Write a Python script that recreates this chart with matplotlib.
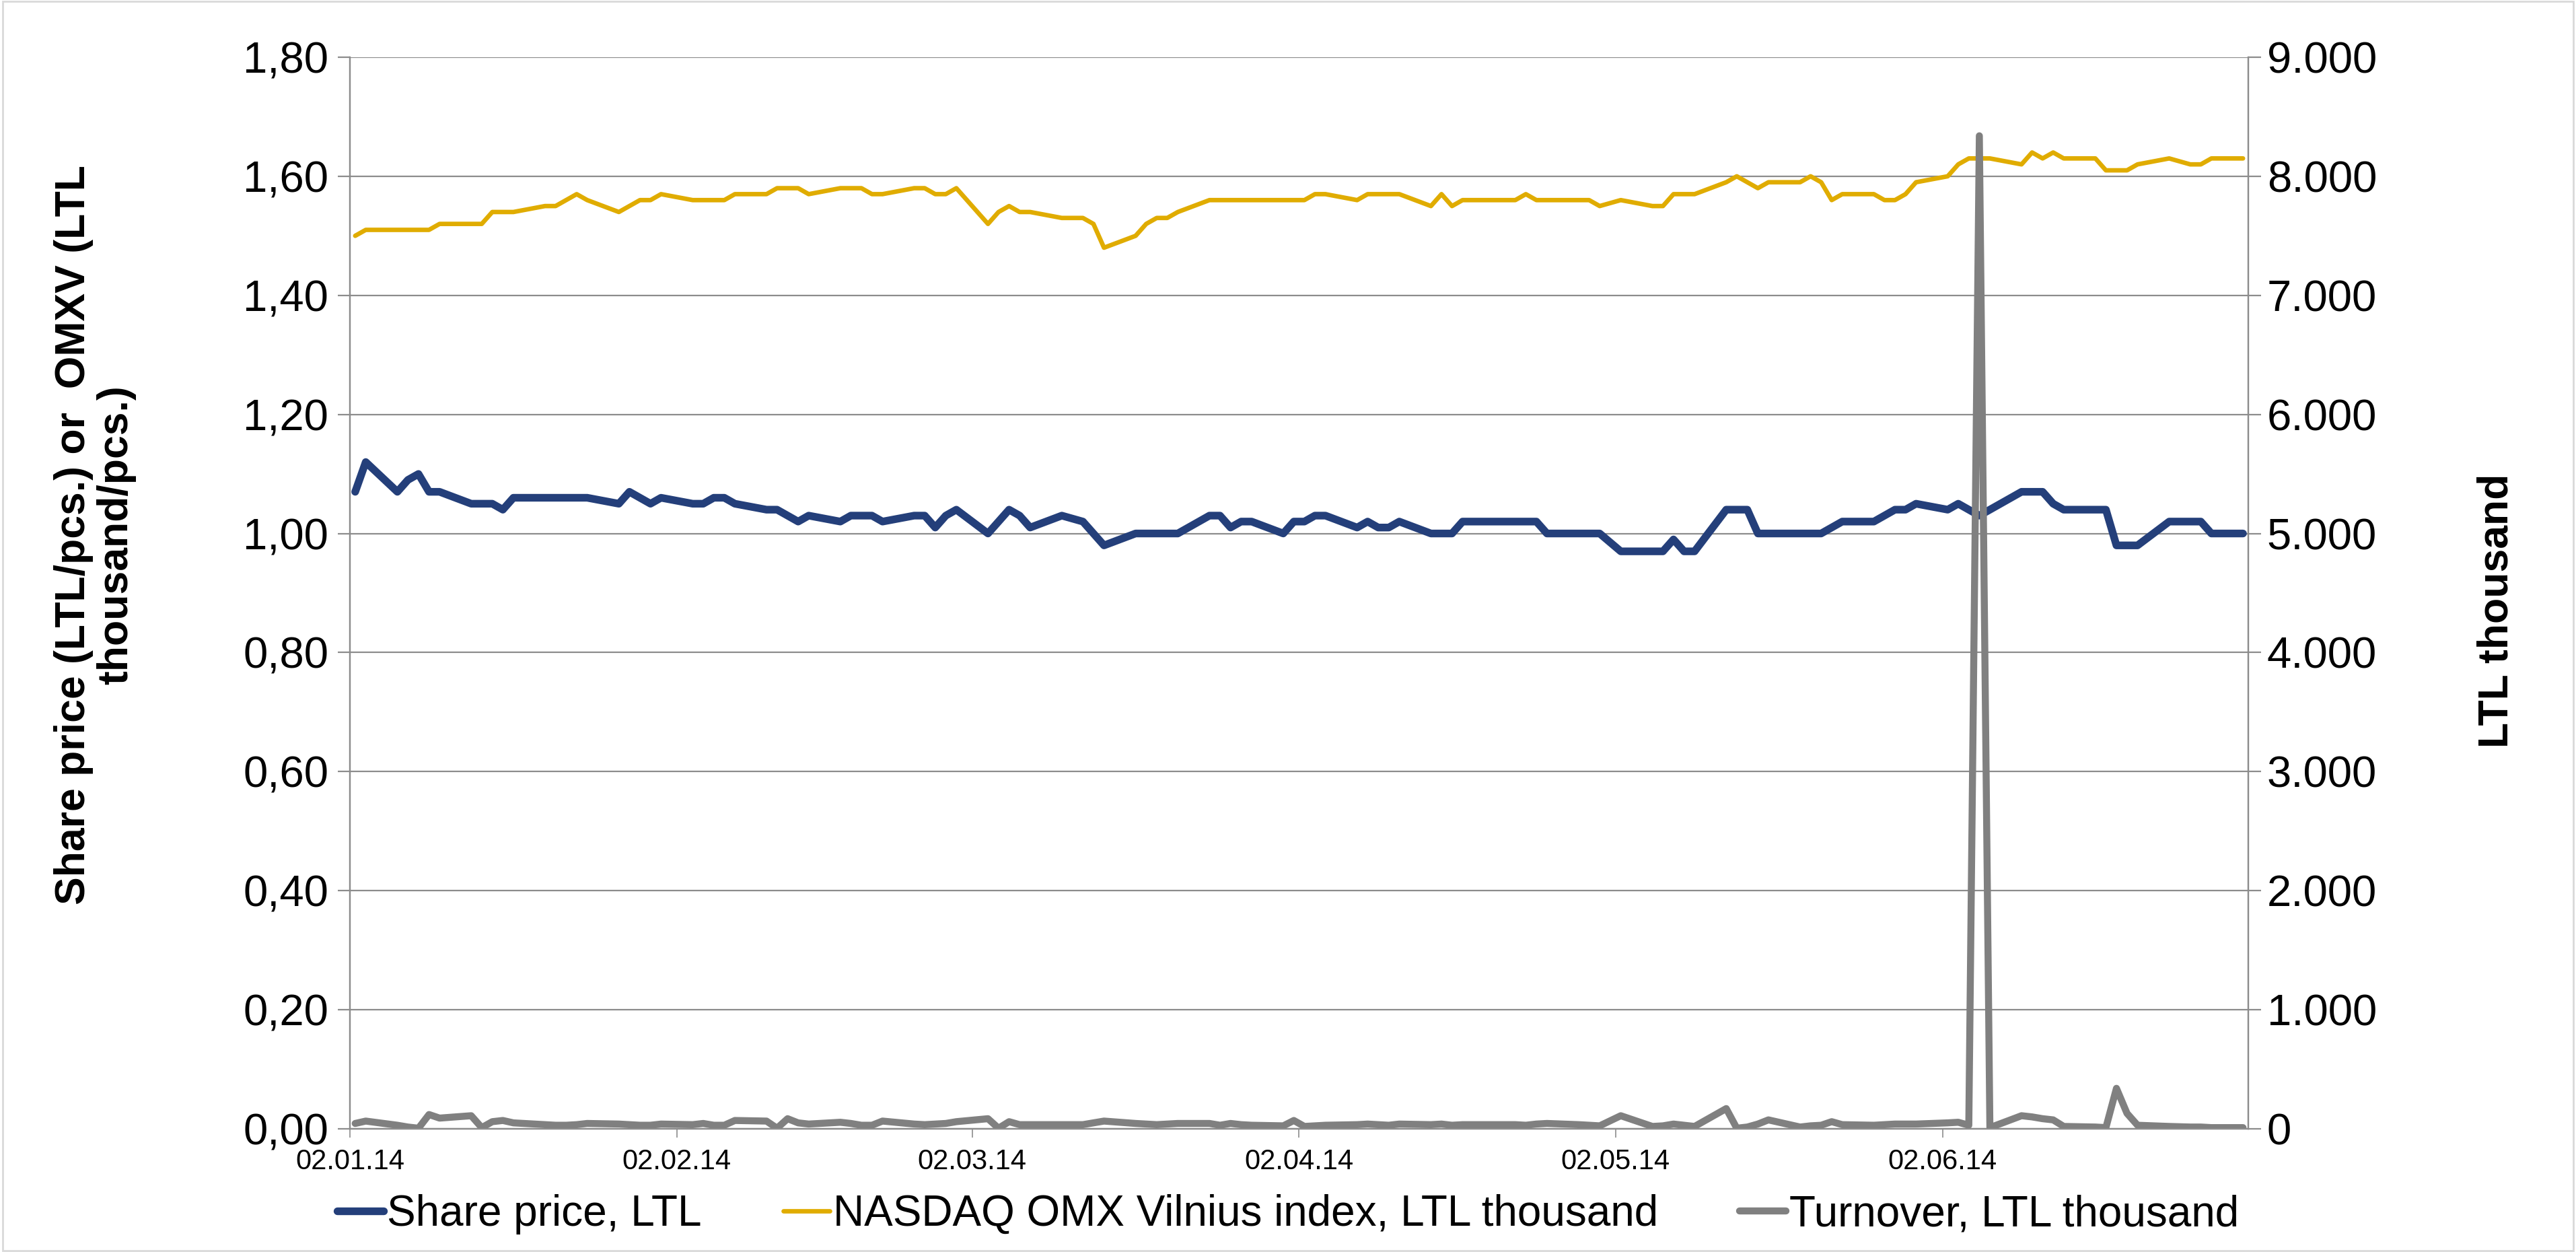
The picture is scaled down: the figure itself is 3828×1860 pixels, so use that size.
import matplotlib
matplotlib.use('Agg')
import matplotlib.pyplot as plt
import matplotlib.dates as mdates
from matplotlib.ticker import MultipleLocator, FuncFormatter
from matplotlib.patches import Rectangle
from datetime import datetime

plt.rcParams['font.family'] = ['Liberation Sans', 'DejaVu Sans']

# Trading days of 2014 (day of month), one list per month
jan_days = [2, 3, 6, 7, 8, 9, 10, 13, 14, 15, 16, 17, 20, 21, 22, 23, 24, 27, 28, 29, 30, 31]
feb_days = [3, 4, 5, 6, 7, 10, 11, 12, 13, 14, 17, 18, 19, 20, 21, 24, 25, 26, 27, 28]
mar_days = [3, 4, 5, 6, 7, 10, 12, 13, 14, 17, 18, 19, 20, 21, 24, 25, 26, 27, 28, 31]
apr_days = [1, 2, 3, 4, 7, 8, 9, 10, 11, 14, 15, 16, 17, 22, 23, 24, 25, 28, 29, 30]
may_days = [2, 5, 6, 7, 8, 9, 12, 13, 14, 15, 16, 19, 20, 21, 22, 23, 26, 27, 28, 29, 30]
jun_days = [2, 3, 4, 5, 6, 9, 10, 11, 12, 13, 16, 17, 18, 19, 20, 23, 25, 26, 27, 30]

# Share price, LTL
price_jan = [1.07, 1.12, 1.07, 1.09, 1.10, 1.07, 1.07, 1.05, 1.05, 1.05, 1.04, 1.06, 1.06, 1.06, 1.06, 1.06, 1.06, 1.05, 1.07, 1.06, 1.05, 1.06]
price_feb = [1.05, 1.05, 1.06, 1.06, 1.05, 1.04, 1.04, 1.03, 1.02, 1.03, 1.02, 1.03, 1.03, 1.03, 1.02, 1.03, 1.03, 1.01, 1.03, 1.04]
price_mar = [1.00, 1.02, 1.04, 1.03, 1.01, 1.03, 1.02, 1.00, 0.98, 1.00, 1.00, 1.00, 1.00, 1.00, 1.03, 1.03, 1.01, 1.02, 1.02, 1.00]
price_apr = [1.02, 1.02, 1.03, 1.03, 1.01, 1.02, 1.01, 1.01, 1.02, 1.00, 1.00, 1.00, 1.02, 1.02, 1.02, 1.02, 1.00, 1.00, 1.00, 1.00]
price_may = [0.97, 0.97, 0.97, 0.99, 0.97, 0.97, 1.04, 1.04, 1.04, 1.00, 1.00, 1.00, 1.00, 1.00, 1.01, 1.02, 1.02, 1.03, 1.04, 1.04, 1.05]
price_jun = [1.04, 1.05, 1.04, 1.03, 1.04, 1.07, 1.07, 1.07, 1.05, 1.04, 1.04, 1.04, 0.98, 0.98, 0.98, 1.02, 1.02, 1.02, 1.00, 1.00]

# NASDAQ OMX Vilnius index, LTL thousand
omxv_jan = [1.50, 1.51, 1.51, 1.51, 1.51, 1.51, 1.52, 1.52, 1.52, 1.54, 1.54, 1.54, 1.55, 1.55, 1.56, 1.57, 1.56, 1.54, 1.55, 1.56, 1.56, 1.57]
omxv_feb = [1.56, 1.56, 1.56, 1.56, 1.57, 1.57, 1.58, 1.58, 1.58, 1.57, 1.58, 1.58, 1.58, 1.57, 1.57, 1.58, 1.58, 1.57, 1.57, 1.58]
omxv_mar = [1.52, 1.54, 1.55, 1.54, 1.54, 1.53, 1.53, 1.52, 1.48, 1.50, 1.52, 1.53, 1.53, 1.54, 1.56, 1.56, 1.56, 1.56, 1.56, 1.56]
omxv_apr = [1.56, 1.56, 1.57, 1.57, 1.56, 1.57, 1.57, 1.57, 1.57, 1.55, 1.57, 1.55, 1.56, 1.56, 1.57, 1.56, 1.56, 1.56, 1.56, 1.55]
omxv_may = [1.56, 1.55, 1.55, 1.57, 1.57, 1.57, 1.59, 1.60, 1.59, 1.58, 1.59, 1.59, 1.60, 1.59, 1.56, 1.57, 1.57, 1.56, 1.56, 1.57, 1.59]
omxv_jun = [1.60, 1.62, 1.63, 1.63, 1.63, 1.62, 1.64, 1.63, 1.64, 1.63, 1.63, 1.61, 1.61, 1.61, 1.62, 1.63, 1.62, 1.62, 1.63, 1.63]

# Turnover, LTL thousand
turn_jan = [45, 65, 30, 15, 5, 120, 90, 110, 10, 60, 70, 50, 35, 30, 30, 35, 45, 40, 35, 30, 30, 40]
turn_feb = [35, 45, 30, 30, 70, 65, 5, 85, 50, 40, 55, 45, 30, 30, 65, 40, 35, 40, 45, 60]
turn_mar = [85, 5, 60, 35, 35, 35, 35, 50, 65, 45, 40, 35, 40, 45, 45, 30, 45, 35, 30, 25]
turn_apr = [70, 20, 25, 30, 35, 40, 35, 30, 40, 35, 40, 30, 35, 35, 30, 40, 45, 35, 30, 25]
turn_may = [110, 20, 25, 40, 30, 20, 170, 5, 15, 40, 75, 15, 25, 30, 60, 35, 30, 35, 40, 40, 40]
turn_jun = [50, 55, 30, 8340, 10, 110, 100, 85, 75, 20, 15, 10, 340, 130, 30, 20, 15, 15, 10, 10]

month_days = [jan_days, feb_days, mar_days, apr_days, may_days, jun_days]
dates = [datetime(2014, m + 1, d) for m, days in enumerate(month_days) for d in days]
price = price_jan + price_feb + price_mar + price_apr + price_may + price_jun
omxv = omxv_jan + omxv_feb + omxv_mar + omxv_apr + omxv_may + omxv_jun
turnover = turn_jan + turn_feb + turn_mar + turn_apr + turn_may + turn_jun

tick_dates = [datetime(2014, m, 2) for m in range(1, 7)]

BLUE = '#243F7A'
GOLD = '#E0AC00'
GREY = '#808080'
GRID = '#8C8C8C'

# Excel date axis puts each point in the middle of its day
x = [mdates.date2num(d) + 0.5 for d in dates]

fig = plt.figure(figsize=(38.28, 18.6), dpi=100)
ax = fig.add_axes([0.13584, 0.09839, 0.73694, 0.85591])
ax2 = ax.twinx()

l1, = ax.plot(x, price, color=BLUE, linewidth=8.2, solid_joinstyle='round', solid_capstyle='round',
              label='Share price, LTL')
l2, = ax.plot(x, omxv, color=GOLD, linewidth=4.8, solid_joinstyle='round', solid_capstyle='round',
              label='NASDAQ OMX Vilnius index, LTL thousand')
l3, = ax2.plot(x, turnover, color=GREY, linewidth=7.5, solid_joinstyle='round', solid_capstyle='round',
               label='Turnover, LTL thousand')

ax.set_xlim(mdates.date2num(datetime(2014, 1, 2)), mdates.date2num(datetime(2014, 7, 1)))
ax.set_ylim(0, 1.8)
ax2.set_ylim(0, 9000)

ax.yaxis.set_major_locator(MultipleLocator(0.2))
ax.yaxis.set_major_formatter(FuncFormatter(lambda v, p: f'{v:.2f}'.replace('.', ',')))
ax2.yaxis.set_major_locator(MultipleLocator(1000))
ax2.yaxis.set_major_formatter(FuncFormatter(lambda v, p: f'{int(round(v)):,}'.replace(',', '.')))

ax.set_xticks([mdates.date2num(d) for d in tick_dates])
ax.xaxis.set_major_formatter(mdates.DateFormatter('%d.%m.%y'))

ax.grid(True, axis='y', color=GRID, linewidth=1.6)
ax.set_axisbelow(True)

for a in (ax, ax2):
    a.spines['top'].set_visible(False)
    for s in ('left', 'right', 'bottom'):
        a.spines[s].set_color(GRID)
        a.spines[s].set_linewidth(1.6)

ax.tick_params(axis='y', direction='out', length=13, width=1.6, color=GRID, pad=10, labelsize=47)
ax.tick_params(axis='x', direction='out', length=9, width=1.2, color=GRID, pad=12, labelsize=30)
ax2.tick_params(axis='y', direction='out', length=14, width=1.6, color=GRID, pad=6, labelsize=47)

# axis titles
fig.text(141 / 3828, 1 - 795 / 1860, 'Share price (LTL/pcs.) or  OMXV (LTL\nthousand/pcs.)',
         rotation=90, ha='center', va='center', multialignment='center',
         fontsize=45, fontweight='bold', linespacing=1.1)
fig.text(3710 / 3828, 1 - 907 / 1860, 'LTL thousand', rotation=90, ha='center', va='center',
         fontsize=45, fontweight='bold')

fig.legend(handles=[l1, l2, l3], loc='center', bbox_to_anchor=(0.5, 1 - 1804 / 1860), ncol=3,
           frameon=False, fontsize=46, handlelength=1.08, handletextpad=0.08, columnspacing=1.9,
           borderaxespad=0)

# light border around the chart area
fig.patches.append(Rectangle((0.001, 0.001), 0.998, 0.998, transform=fig.transFigure, fill=False,
                             edgecolor='#D9D9D9', linewidth=2))

fig.savefig('out.png', dpi=100)
plt.close(fig)
